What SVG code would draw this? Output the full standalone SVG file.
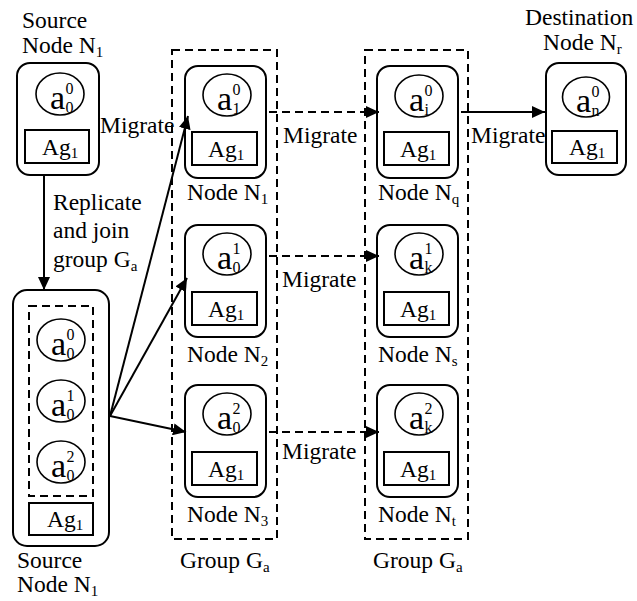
<svg xmlns="http://www.w3.org/2000/svg" width="637" height="601" viewBox="0 0 637 601">
<style>
text{font-family:"Liberation Serif","Times New Roman",serif;fill:#000}
.t{font-size:23.5px}
.sb{font-size:15px}
.a{font-size:34px}
.s{font-size:16px}
.box{fill:#fff;stroke:#000;stroke-width:2}
.ag{fill:none;stroke:#000;stroke-width:2}
.c{fill:none;stroke:#000;stroke-width:1.6}
.grp{fill:none;stroke:#000;stroke-width:2;stroke-dasharray:8 5}
.ln{fill:none;stroke:#000;stroke-width:2}
.dl{fill:none;stroke:#000;stroke-width:2;stroke-dasharray:8 5}
</style>
<defs>
<marker id="ah" markerUnits="userSpaceOnUse" markerWidth="14" markerHeight="12" refX="13" refY="6" orient="auto">
<path d="M0,0 L13,6 L0,12 z" fill="#000" stroke="none"/>
</marker>
</defs>

<g id="groups">
<rect class="grp" x="172" y="50" width="105" height="489"/>
<rect class="grp" x="365" y="50" width="103" height="489"/>
<text class="t" x="180" y="568">Group G<tspan class="sb" dy="4">a</tspan></text>
<text class="t" x="373" y="568">Group G<tspan class="sb" dy="4">a</tspan></text>
</g>

<g id="source-top">
<text class="t" x="22" y="28">Source</text>
<text class="t" x="22" y="53">Node N<tspan class="sb" dy="4">1</tspan></text>
<rect class="box" x="17" y="63" width="82" height="112" rx="13"/>
<ellipse class="c" cx="60" cy="94" rx="24" ry="21"/>
<text class="a" x="50" y="109">a</text><text class="s" x="65.5" y="94">0</text><text class="s" x="65.5" y="113">0</text>
<rect class="ag" x="25" y="130" width="64" height="33"/>
<text class="t" x="42" y="155">Ag<tspan class="sb" dy="3">1</tspan></text>
</g>

<g id="source-bottom">
<rect class="box" x="13" y="290" width="96" height="256" rx="14"/>
<rect class="grp" x="29" y="306" width="64" height="190"/>
<ellipse class="c" cx="61" cy="340" rx="24" ry="21"/>
<text class="a" x="51" y="355">a</text><text class="s" x="66.5" y="340">0</text><text class="s" x="66.5" y="359">0</text>
<ellipse class="c" cx="61" cy="401" rx="24" ry="21"/>
<text class="a" x="51" y="416">a</text><text class="s" x="66.5" y="401">1</text><text class="s" x="66.5" y="420">0</text>
<ellipse class="c" cx="61" cy="462" rx="24" ry="21"/>
<text class="a" x="51" y="477">a</text><text class="s" x="66.5" y="462">2</text><text class="s" x="66.5" y="481">0</text>
<rect class="ag" x="29" y="503" width="64" height="32"/>
<text class="t" x="47" y="527">Ag<tspan class="sb" dy="3">1</tspan></text>
<text class="t" x="17" y="568">Source</text>
<text class="t" x="17" y="592">Node N<tspan class="sb" dy="4">1</tspan></text>
</g>

<g id="node-n1">
<rect class="box" x="185" y="66" width="81" height="112" rx="13"/>
<ellipse class="c" cx="227" cy="95" rx="24" ry="21"/>
<text class="a" x="217" y="110">a</text><text class="s" x="232.5" y="95">0</text><text class="s" x="232.5" y="114">1</text>
<rect class="ag" x="192" y="132" width="65" height="33"/>
<text class="t" x="208" y="157">Ag<tspan class="sb" dy="3">1</tspan></text>
<text class="t" x="187" y="200">Node N<tspan class="sb" dy="4">1</tspan></text>
</g>

<g id="node-n2">
<rect class="box" x="185" y="225" width="81" height="112" rx="13"/>
<ellipse class="c" cx="227" cy="254" rx="24" ry="21"/>
<text class="a" x="217" y="269">a</text><text class="s" x="232.5" y="254">1</text><text class="s" x="232.5" y="273">0</text>
<rect class="ag" x="192" y="292" width="65" height="33"/>
<text class="t" x="208" y="317">Ag<tspan class="sb" dy="3">1</tspan></text>
<text class="t" x="187" y="362">Node N<tspan class="sb" dy="4">2</tspan></text>
</g>

<g id="node-n3">
<rect class="box" x="185" y="385" width="81" height="112" rx="13"/>
<ellipse class="c" cx="227" cy="414" rx="24" ry="21"/>
<text class="a" x="217" y="429">a</text><text class="s" x="232.5" y="414">2</text><text class="s" x="232.5" y="433">0</text>
<rect class="ag" x="192" y="452" width="65" height="33"/>
<text class="t" x="208" y="477">Ag<tspan class="sb" dy="3">1</tspan></text>
<text class="t" x="187" y="522">Node N<tspan class="sb" dy="4">3</tspan></text>
</g>

<g id="node-nq">
<rect class="box" x="377" y="66" width="81" height="112" rx="13"/>
<ellipse class="c" cx="419" cy="96" rx="24" ry="21"/>
<text class="a" x="409" y="111">a</text><text class="s" x="424.5" y="96">0</text><text class="s" x="424.5" y="115">i</text>
<rect class="ag" x="384" y="132" width="65" height="33"/>
<text class="t" x="400" y="157">Ag<tspan class="sb" dy="3">1</tspan></text>
<text class="t" x="378" y="200">Node N<tspan class="sb" dy="4">q</tspan></text>
</g>

<g id="node-ns">
<rect class="box" x="377" y="225" width="81" height="112" rx="13"/>
<ellipse class="c" cx="419" cy="254" rx="24" ry="21"/>
<text class="a" x="409" y="269">a</text><text class="s" x="424.5" y="254">1</text><text class="s" x="424.5" y="273">k</text>
<rect class="ag" x="384" y="292" width="65" height="33"/>
<text class="t" x="400" y="317">Ag<tspan class="sb" dy="3">1</tspan></text>
<text class="t" x="378" y="362">Node N<tspan class="sb" dy="4">s</tspan></text>
</g>

<g id="node-nt">
<rect class="box" x="377" y="385" width="81" height="112" rx="13"/>
<ellipse class="c" cx="419" cy="414" rx="24" ry="21"/>
<text class="a" x="409" y="429">a</text><text class="s" x="424.5" y="414">2</text><text class="s" x="424.5" y="433">k</text>
<rect class="ag" x="384" y="452" width="65" height="33"/>
<text class="t" x="400" y="477">Ag<tspan class="sb" dy="3">1</tspan></text>
<text class="t" x="378" y="522">Node N<tspan class="sb" dy="4">t</tspan></text>
</g>

<g id="dest">
<text class="t" x="525" y="25">Destination</text>
<text class="t" x="543" y="50">Node N<tspan class="sb" dy="4">r</tspan></text>
<rect class="box" x="546" y="63" width="80" height="112" rx="13"/>
<ellipse class="c" cx="586" cy="97" rx="23.5" ry="20"/>
<text class="a" x="576" y="112">a</text><text class="s" x="591.5" y="97">0</text><text class="s" x="591.5" y="116">n</text>
<rect class="ag" x="552" y="131" width="65" height="32"/>
<text class="t" x="569" y="155">Ag<tspan class="sb" dy="3">1</tspan></text>
</g>

<g id="connectors">
<line class="ln" x1="44" y1="175" x2="44" y2="290" marker-end="url(#ah)"/>
<line class="ln" x1="110" y1="416" x2="188" y2="116" marker-end="url(#ah)"/>
<line class="ln" x1="110" y1="416" x2="187" y2="278" marker-end="url(#ah)"/>
<line class="ln" x1="110" y1="416" x2="186" y2="432" marker-end="url(#ah)"/>
<line class="dl" x1="269" y1="112" x2="379" y2="112" marker-end="url(#ah)"/>
<line class="dl" x1="269" y1="256" x2="379" y2="256" marker-end="url(#ah)"/>
<line class="dl" x1="269" y1="432" x2="379" y2="432" marker-end="url(#ah)"/>
<line class="ln" x1="461" y1="112" x2="545" y2="112" marker-end="url(#ah)"/>
<text class="t" x="100" y="133">Migrate</text>
<text class="t" x="283" y="143">Migrate</text>
<text class="t" x="471" y="143">Migrate</text>
<text class="t" x="282" y="287">Migrate</text>
<text class="t" x="282" y="459">Migrate</text>
<text class="t" x="53" y="210">Replicate</text>
<text class="t" x="53" y="238">and join</text>
<text class="t" x="53" y="267">group G<tspan class="sb" dy="4">a</tspan></text>
</g>
</svg>
